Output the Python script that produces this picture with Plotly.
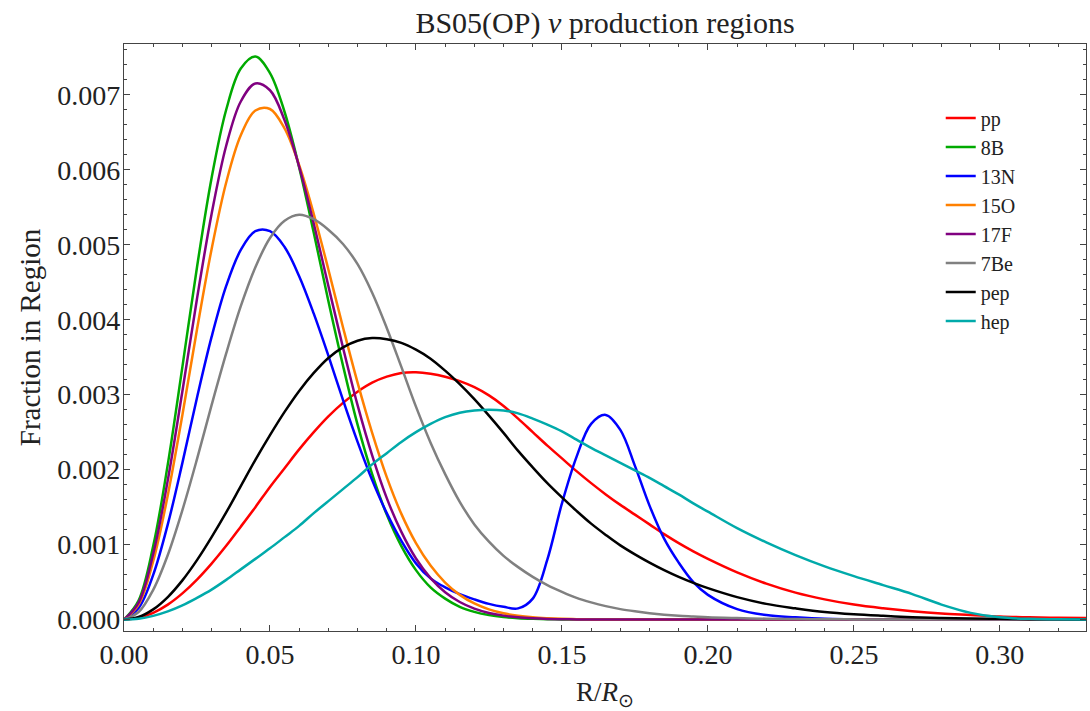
import plotly.graph_objects as go

# Radius grid (R / R_sun)
R = [0.000, 0.005, 0.010, 0.015, 0.020, 0.025, 0.030, 0.035, 0.040, 0.045,
     0.050, 0.055, 0.060, 0.065, 0.070, 0.075, 0.080, 0.085, 0.090, 0.095,
     0.100, 0.105, 0.110, 0.115, 0.120, 0.125, 0.130, 0.135, 0.140, 0.145,
     0.150, 0.155, 0.160, 0.165, 0.170, 0.175, 0.180, 0.185, 0.190, 0.195,
     0.200, 0.21, 0.22, 0.23, 0.24, 0.25, 0.26, 0.27, 0.28, 0.29,
     0.30, 0.31, 0.32, 0.33]

pp = [0, 0.000023, 0.00009, 0.0002, 0.00035, 0.000534, 0.000747, 0.000984, 0.00124, 0.0015,
      0.00177, 0.00202, 0.00227, 0.0025, 0.00271, 0.00289, 0.00304, 0.00316, 0.00324, 0.00329,
      0.0033, 0.00328, 0.00324, 0.00318, 0.00310, 0.00299, 0.00285, 0.00268, 0.0025, 0.00232,
      0.00215, 0.00198, 0.00182, 0.00167, 0.00153, 0.0014, 0.00127, 0.00114, 0.00102, 0.00091,
      0.00081, 0.00063, 0.00048, 0.00036, 0.00027, 0.0002, 0.00015, 0.00011, 0.00008, 0.00006,
      0.00004, 0.00003, 0.000025, 0.00002]

b8 = [0, 0.000255, 0.00098, 0.00207, 0.00337, 0.0047, 0.00589, 0.0068, 0.00735, 0.00751,
      0.00729, 0.00677, 0.00603, 0.00516, 0.00425, 0.00339, 0.0026, 0.00194, 0.0014, 0.00098,
      0.00066, 0.00043, 0.00028, 0.00017, 0.000103, 0.00006, 0.000034, 0.000019, 0.00001, 0.000005,
      0.000003, 0.000001, 0, 0, 0, 0, 0, 0, 0, 0,
      0, 0, 0, 0, 0, 0, 0, 0, 0, 0,
      0, 0, 0, 0]

n13 = [0, 0.000154, 0.000597, 0.00127, 0.00209, 0.00296, 0.00377, 0.00445, 0.00493, 0.00518,
       0.00518, 0.00497, 0.00458, 0.00408, 0.00352, 0.00293, 0.00237, 0.00186, 0.00142, 0.00105,
       0.00075, 0.00055, 0.00043, 0.00034, 0.00027, 0.00021, 0.00017, 0.00015, 0.00028, 0.0008,
       0.00155, 0.00217, 0.00261, 0.00273, 0.00253, 0.00205, 0.00152, 0.00108, 0.00076, 0.0005,
       0.00033, 0.00014, 0.00006, 0.00003, 0.00001, 0.000005, 0, 0, 0, 0,
       0, 0, 0, 0]

o15 = [0, 0.000201, 0.000779, 0.00166, 0.00273, 0.00387, 0.00494, 0.00583, 0.00646, 0.00679,
       0.00681, 0.00655, 0.00606, 0.00541, 0.00467, 0.0039, 0.00316, 0.00249, 0.0019, 0.00141,
       0.00102, 0.00072, 0.000494, 0.00033, 0.000215, 0.000136, 0.000084, 0.000051, 0.00003, 0.000018,
       0.00001, 0.000006, 0.000003, 0, 0, 0, 0, 0, 0, 0,
       0, 0, 0, 0, 0, 0, 0, 0, 0, 0,
       0, 0, 0, 0]

f17 = [0, 0.000227, 0.000877, 0.00186, 0.003045, 0.00428, 0.00541, 0.00632, 0.00691, 0.00715,
       0.00706, 0.00666, 0.00604, 0.00528, 0.00445, 0.00363, 0.00286, 0.00219, 0.00162, 0.00117,
       0.000815, 0.000554, 0.000366, 0.000235, 0.000147, 0.000089, 0.000053, 0.00003, 0.000017, 0.000009,
       0.000005, 0.000002, 0, 0, 0, 0, 0, 0, 0, 0,
       0, 0, 0, 0, 0, 0, 0, 0, 0, 0,
       0, 0, 0, 0]

be7 = [0, 0.000101, 0.000397, 0.000862, 0.00146, 0.00214, 0.00286, 0.00355, 0.00418, 0.0047,
       0.00509, 0.00532, 0.0054, 0.00534, 0.0052, 0.00501, 0.00474, 0.00436, 0.00389, 0.00337,
       0.00284, 0.00236, 0.00194, 0.00157, 0.00127, 0.00104, 0.00085, 0.0007, 0.00057, 0.00046,
       0.00037, 0.00029, 0.00023, 0.00018, 0.00014, 0.00011, 0.000085, 0.000065, 0.00005, 0.00004,
       0.00003, 0.00002, 0.000012, 0.000008, 0.000005, 0.000003, 0.000002, 0.000001, 0, 0,
       0, 0, 0, 0]

pep = [0, 0.000034, 0.000136, 0.000301, 0.000523, 0.000793, 0.0011, 0.00143, 0.00178, 0.00213,
       0.00246, 0.00277, 0.00305, 0.00329, 0.00349, 0.00363, 0.00372, 0.003755, 0.00374, 0.00369,
       0.0036, 0.00348, 0.00332, 0.00314, 0.00294, 0.00272, 0.00249, 0.00225, 0.00203, 0.00182,
       0.00163, 0.00145, 0.00128, 0.00113, 0.00099, 0.00087, 0.00076, 0.00066, 0.00057, 0.00049,
       0.00042, 0.0003, 0.00021, 0.00015, 0.0001, 0.00007, 0.00005, 0.000033, 0.000022, 0.000014,
       0.00001, 0.000006, 0.000004, 0.000003]

hep = [0, 0.000012, 0.00005, 0.00011, 0.00019, 0.00029, 0.0004, 0.00053, 0.00067, 0.00081,
       0.00095, 0.0011, 0.00125, 0.00142, 0.00158, 0.00174, 0.0019, 0.00207, 0.00222, 0.00237,
       0.0025, 0.00261, 0.0027, 0.00276, 0.00279, 0.0028, 0.00279, 0.00275, 0.00268, 0.0026,
       0.00251, 0.0024, 0.00229, 0.00219, 0.00209, 0.00199, 0.00189, 0.00178, 0.00167, 0.00155,
       0.00144, 0.00122, 0.00103, 0.00086, 0.00071, 0.00058, 0.00046, 0.00034, 0.0002, 0.00009,
       0.00003, 0.00001, 0.000005, 0]

names = ["pp", "8B", "13N", "15O", "17F", "7Be", "pep", "hep"]
series = [pp, b8, n13, o15, f17, be7, pep, hep]
colors = ["#FF0000", "#00AA00", "#0000FF", "#FF8000", "#800080", "#808080", "#000000", "#00AAAA"]

FONT = "Liberation Serif"

fig = go.Figure()
for name, ys, c in zip(names, series, colors):
    fig.add_trace(go.Scatter(x=R, y=ys, mode="lines", name=name,
                             line=dict(color=c, width=2.5, shape="spline", smoothing=1.0)))

axis_common = dict(showline=True, mirror="ticks", linecolor="#444", linewidth=1.3,
                   ticks="inside", tickcolor="#444", ticklen=6, tickwidth=1.2,
                   showgrid=False, zeroline=False,
                   tickfont=dict(family=FONT, size=28, color="#222"))

fig.update_layout(
    width=1090, height=711,
    margin=dict(l=124, r=4, t=44, b=80),
    paper_bgcolor="white", plot_bgcolor="white",
    font=dict(family=FONT, color="#222"),
    title=dict(text="BS05(OP) <i>ν</i> production regions", x=0.5, xref="paper",
               y=1 - 22 / 711, yref="container", yanchor="middle",
               font=dict(family=FONT, size=30, color="#222")),
    xaxis=dict(range=[0, 0.3295], dtick=0.05, tick0=0, tickformat=".2f",
               ticklabelstandoff=-2,
               minor=dict(ticks="inside", ticklen=3, dtick=0.01, tick0=0, tickcolor="#444"),
               title=dict(text="R/<i>R</i><sub>⊙</sub>", font=dict(family=FONT, size=27, color="#222"),
                          standoff=18),
               **axis_common),
    yaxis=dict(range=[-0.000152, 0.007677], dtick=0.001, tick0=0, tickformat=".3f",
               ticklabelstandoff=-3,
               minor=dict(ticks="inside", ticklen=3, dtick=0.0002, tick0=0, tickcolor="#444"),
               title=dict(text="Fraction in Region", font=dict(family=FONT, size=29, color="#222"),
                          standoff=8),
               **axis_common),
    legend=dict(x=0.849, xanchor="left", y=0.907, yanchor="top",
                font=dict(family=FONT, size=20, color="#222"),
                bgcolor="rgba(0,0,0,0)", borderwidth=0, tracegroupgap=0),
    showlegend=True,
)

fig.write_html("out.html")
